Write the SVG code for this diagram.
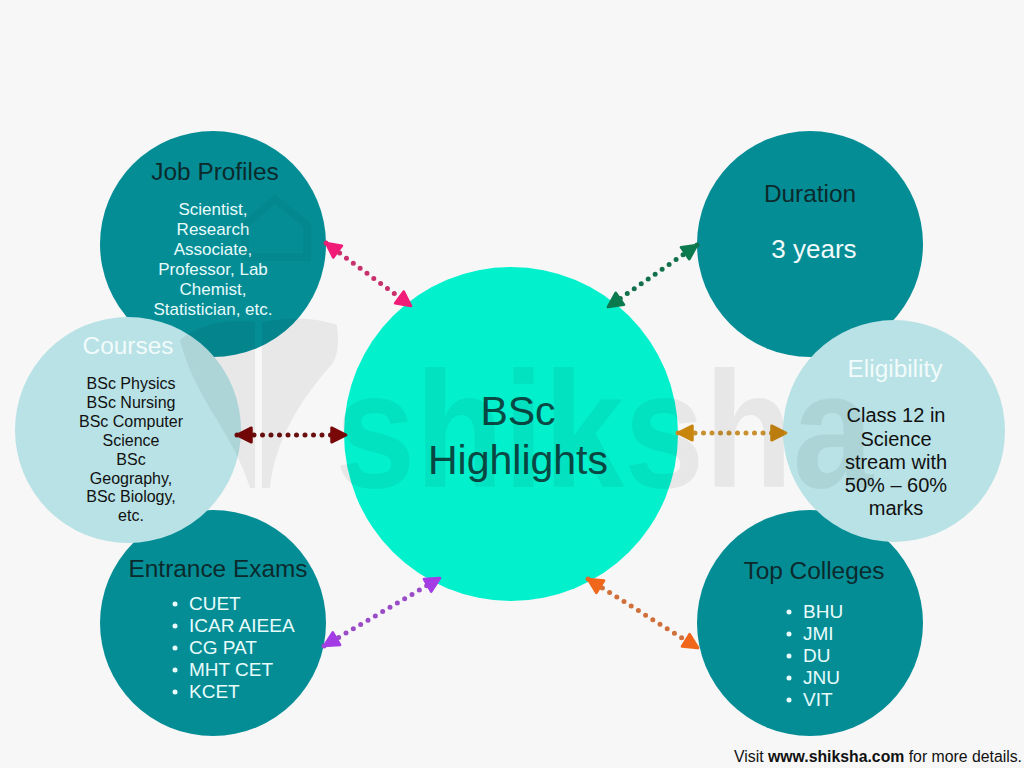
<svg xmlns="http://www.w3.org/2000/svg" width="1024" height="768" viewBox="0 0 1024 768">
  <style>
    .dark { fill: #058D96; }
    .light { fill: #B8E2E5; }
    .core { fill: #03F0CD; }
    text { font-family: "Liberation Sans", Arial, sans-serif; }
    .ttl { font-size: 24.4px; fill: #0C2A2C; text-anchor: middle; }
    .ttlw { font-size: 24.4px; fill: #F2FBFB; text-anchor: middle; }
    .bodyw { font-size: 17px; fill: #E8FCFC; text-anchor: middle; }
    .bodyb { font-size: 16px; fill: #111111; text-anchor: middle; }
    .bodyb20 { font-size: 20px; fill: #111111; text-anchor: middle; }
    .list { font-size: 19px; fill: #E8FCFC; }
    .bullet { fill: #E8FCFC; }
    .conn { fill: none; stroke-width: 5; stroke-linecap: round; stroke-dasharray: 0 8.5; }
    .wm { fill: #000000; opacity: 0.06; }
  </style>
  <defs>
    <marker id="hPink" viewBox="0 0 10 10" refX="9" refY="5" markerWidth="18" markerHeight="18" markerUnits="userSpaceOnUse" orient="auto-start-reverse">
      <path d="M1,1 L9,5 L1,9 Z" fill="#F01C78" stroke="#F01C78" stroke-width="1.5" stroke-linejoin="round"/>
    </marker>
    <marker id="hGreen" viewBox="0 0 10 10" refX="9" refY="5" markerWidth="18" markerHeight="18" markerUnits="userSpaceOnUse" orient="auto-start-reverse">
      <path d="M1,1 L9,5 L1,9 Z" fill="#0B7A4E" stroke="#0B7A4E" stroke-width="1.5" stroke-linejoin="round"/>
    </marker>
    <marker id="hRed" viewBox="0 0 10 10" refX="9" refY="5" markerWidth="18" markerHeight="18" markerUnits="userSpaceOnUse" orient="auto-start-reverse">
      <path d="M1,1 L9,5 L1,9 Z" fill="#7A0808" stroke="#7A0808" stroke-width="1.5" stroke-linejoin="round"/>
    </marker>
    <marker id="hGold" viewBox="0 0 10 10" refX="9" refY="5" markerWidth="18" markerHeight="18" markerUnits="userSpaceOnUse" orient="auto-start-reverse">
      <path d="M1,1 L9,5 L1,9 Z" fill="#C8860E" stroke="#C8860E" stroke-width="1.5" stroke-linejoin="round"/>
    </marker>
    <marker id="hPurple" viewBox="0 0 10 10" refX="9" refY="5" markerWidth="18" markerHeight="18" markerUnits="userSpaceOnUse" orient="auto-start-reverse">
      <path d="M1,1 L9,5 L1,9 Z" fill="#A43CE6" stroke="#A43CE6" stroke-width="1.5" stroke-linejoin="round"/>
    </marker>
    <marker id="hOrange" viewBox="0 0 10 10" refX="9" refY="5" markerWidth="18" markerHeight="18" markerUnits="userSpaceOnUse" orient="auto-start-reverse">
      <path d="M1,1 L9,5 L1,9 Z" fill="#F0661A" stroke="#F0661A" stroke-width="1.5" stroke-linejoin="round"/>
    </marker>
  </defs>

  <rect width="1024" height="768" fill="#F7F7F7"/>

  <g id="node-job-profiles">
    <circle class="dark" cx="213" cy="244" r="113"/>
    <text class="ttl" x="215" y="180">Job Profiles</text>
    <text class="bodyw" x="213" y="215">Scientist,</text>
    <text class="bodyw" x="213" y="235">Research</text>
    <text class="bodyw" x="213" y="255">Associate,</text>
    <text class="bodyw" x="213" y="275">Professor, Lab</text>
    <text class="bodyw" x="213" y="295">Chemist,</text>
    <text class="bodyw" x="213" y="315">Statistician, etc.</text>
  </g>

  <g id="node-entrance-exams">
    <circle class="dark" cx="213" cy="623" r="113"/>
    <text class="ttl" x="218" y="577">Entrance Exams</text>
    <circle class="bullet" cx="175" cy="604" r="2.5"/>
    <circle class="bullet" cx="175" cy="626" r="2.5"/>
    <circle class="bullet" cx="175" cy="648" r="2.5"/>
    <circle class="bullet" cx="175" cy="670" r="2.5"/>
    <circle class="bullet" cx="175" cy="692" r="2.5"/>
    <text class="list" x="189" y="610">CUET</text>
    <text class="list" x="189" y="632">ICAR AIEEA</text>
    <text class="list" x="189" y="654">CG PAT</text>
    <text class="list" x="189" y="676">MHT CET</text>
    <text class="list" x="189" y="698">KCET</text>
  </g>

  <g id="node-courses">
    <circle class="light" cx="128" cy="430" r="113"/>
    <text class="ttlw" x="128" y="354">Courses</text>
    <text class="bodyb" x="131" y="389">BSc Physics</text>
    <text class="bodyb" x="131" y="408">BSc Nursing</text>
    <text class="bodyb" x="131" y="427">BSc Computer</text>
    <text class="bodyb" x="131" y="446">Science</text>
    <text class="bodyb" x="131" y="465">BSc</text>
    <text class="bodyb" x="131" y="484">Geography,</text>
    <text class="bodyb" x="131" y="502">BSc Biology,</text>
    <text class="bodyb" x="131" y="521">etc.</text>
  </g>

  <g id="node-duration">
    <circle class="dark" cx="810" cy="244" r="113"/>
    <text class="ttl" x="810" y="202">Duration</text>
    <text class="ttlw" x="814" y="258" style="font-size:26px">3 years</text>
  </g>

  <g id="node-top-colleges">
    <circle class="dark" cx="810" cy="623" r="113"/>
    <text class="ttl" x="814" y="579">Top Colleges</text>
    <circle class="bullet" cx="789" cy="612" r="2.5"/>
    <circle class="bullet" cx="789" cy="634" r="2.5"/>
    <circle class="bullet" cx="789" cy="656" r="2.5"/>
    <circle class="bullet" cx="789" cy="678" r="2.5"/>
    <circle class="bullet" cx="789" cy="700" r="2.5"/>
    <text class="list" x="803" y="618">BHU</text>
    <text class="list" x="803" y="640">JMI</text>
    <text class="list" x="803" y="662">DU</text>
    <text class="list" x="803" y="684">JNU</text>
    <text class="list" x="803" y="706">VIT</text>
  </g>

  <g id="node-eligibility">
    <circle class="light" cx="894" cy="431" r="111"/>
    <text class="ttlw" x="895" y="377">Eligibility</text>
    <text class="bodyb20" x="896" y="422">Class 12 in</text>
    <text class="bodyb20" x="896" y="446">Science</text>
    <text class="bodyb20" x="896" y="469">stream with</text>
    <text class="bodyb20" x="896" y="492">50% – 60%</text>
    <text class="bodyb20" x="896" y="515">marks</text>
  </g>

  <g id="node-center">
    <circle class="core" cx="511" cy="434" r="167"/>
    <text x="518" y="425" style="font-size:41px; fill:#0A4A45; text-anchor:middle">BSc</text>
    <text x="518" y="474" style="font-size:41px; fill:#0A4A45; text-anchor:middle">Highlights</text>
  </g>

  <g id="connectors">
    <line class="conn" stroke="#C8306C" x1="326" y1="243" x2="411" y2="306" marker-start="url(#hPink)" marker-end="url(#hPink)"/>
    <line class="conn" stroke="#13704C" x1="697" y1="245" x2="608" y2="307" marker-start="url(#hGreen)" marker-end="url(#hGreen)"/>
    <line class="conn" stroke="#6A1010" x1="237" y1="435" x2="346" y2="435" marker-start="url(#hRed)" marker-end="url(#hRed)"/>
    <line class="conn" stroke="#C89030" x1="678" y1="433" x2="786" y2="433" marker-start="url(#hGold)" marker-end="url(#hGold)"/>
    <line class="conn" stroke="#9A4CC8" x1="324" y1="646" x2="440" y2="578" marker-start="url(#hPurple)" marker-end="url(#hPurple)"/>
    <line class="conn" stroke="#D0703A" x1="588" y1="579" x2="698" y2="648" marker-start="url(#hOrange)" marker-end="url(#hOrange)"/>
  </g>

  <g id="watermark">
    <path class="wm" d="M180 340 C195 400 232 430 250 488 L255 488 L255 322 C225 318 195 326 180 340 Z"/>
    <path class="wm" d="M262 322 L262 488 L270 488 C275 440 300 400 333 363 C340 350 338 335 337 325 C310 316 285 318 262 322 Z"/>
    <path d="M245 225 L275 199 L307 225 L307 257 L245 257 Z" fill="none" stroke="#000" stroke-width="8" opacity="0.035"/>
    <text class="wm" x="335" y="487" textLength="538" lengthAdjust="spacingAndGlyphs" style="font-size:165px; font-weight:bold">shiksha</text>
  </g>

  <text x="1022" y="762" style="font-size:15.8px; fill:#111111; text-anchor:end">Visit <tspan font-weight="bold">www.shiksha.com</tspan> for more details.</text>
</svg>
